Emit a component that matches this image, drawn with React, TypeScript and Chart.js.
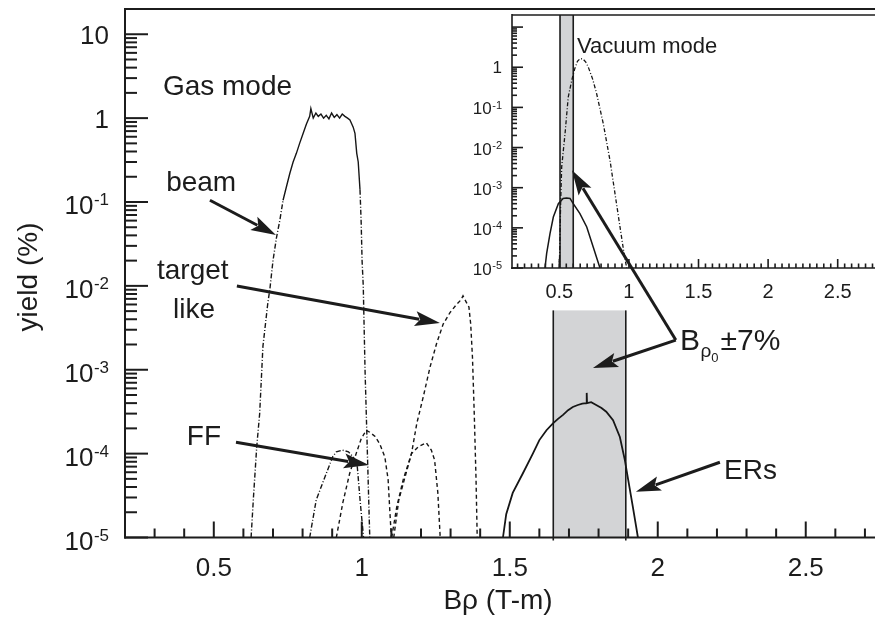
import React, { useEffect, useRef } from 'react';
import { Chart, registerables } from 'chart.js';
Chart.register(...registerables);

// ---------- Main panel (gas mode) ----------
const beamX = [0.626, 0.634, 0.645, 0.655, 0.666, 0.682, 0.690, 0.700, 0.712, 0.723, 0.734, 0.745, 0.757, 0.768, 0.779, 0.790, 0.802, 0.813, 0.824, 0.828, 0.836, 0.845, 0.853, 0.862, 0.871, 0.880, 0.889, 0.898, 0.907, 0.916, 0.925, 0.934, 0.943, 0.952, 0.960, 0.965, 0.971, 0.977, 0.983, 0.988, 0.994, 0.998, 1.001, 1.005, 1.011, 1.019, 1.027];
const beamY = [1e-5, 3e-5, 1.2e-4, 3e-4, 1.9e-3, 6e-3, 0.0095, 0.02, 0.038, 0.06, 0.105, 0.15, 0.22, 0.3, 0.38, 0.5, 0.66, 0.85, 1.05, 1.3, 1.0, 1.15, 1.05, 1.12, 1.0, 1.08, 0.98, 1.15, 1.02, 1.1, 1.0, 1.12, 1.05, 1.0, 0.95, 0.87, 0.78, 0.66, 0.38, 0.3, 0.14, 0.056, 0.02, 0.01, 1e-3, 1e-4, 1e-5];

const targetX = [1.101, 1.118, 1.140, 1.168, 1.186, 1.208, 1.231, 1.253, 1.275, 1.298, 1.320, 1.335, 1.342, 1.352, 1.362, 1.368, 1.374, 1.380, 1.386, 1.390];
const targetY = [1e-5, 2.3e-5, 4.9e-5, 1e-4, 2.3e-4, 4.8e-4, 1.09e-3, 2.07e-3, 3.5e-3, 4.8e-3, 6e-3, 6.8e-3, 7.6e-3, 6.5e-3, 5.6e-3, 3.5e-3, 1.4e-3, 3e-4, 5e-5, 1e-5];

const ffAX = [0.824, 0.846, 0.880, 0.902, 0.914, 0.935, 0.955, 0.972, 0.985, 0.995, 1.006];
const ffAY = [1e-5, 2.8e-5, 5.8e-5, 9.2e-5, 1.05e-4, 1.1e-4, 1.05e-4, 9e-5, 6.9e-5, 2.6e-5, 1e-5];
const ffBX = [0.914, 0.936, 0.959, 0.981, 0.998, 1.015, 1.027, 1.045, 1.061, 1.078, 1.089, 1.095, 1.100];
const ffBY = [1e-5, 2.6e-5, 5.8e-5, 1e-4, 1.5e-4, 1.9e-4, 1.8e-4, 1.6e-4, 1.3e-4, 9.1e-5, 4.9e-5, 2e-5, 1e-5];
const ffCX = [1.108, 1.125, 1.140, 1.168, 1.190, 1.218, 1.235, 1.246, 1.257, 1.265];
const ffCY = [1e-5, 2.8e-5, 4.4e-5, 1e-4, 1.2e-4, 1.35e-4, 1.1e-4, 8.4e-5, 3.4e-5, 1e-5];

const erX = [1.477, 1.488, 1.510, 1.544, 1.578, 1.600, 1.624, 1.646, 1.663, 1.680, 1.697, 1.713, 1.730, 1.745, 1.759, 1.760, 1.761, 1.775, 1.792, 1.810, 1.826, 1.849, 1.872, 1.889, 1.900, 1.916, 1.927, 1.933];
const erY = [1e-5, 1.9e-5, 3.4e-5, 5.8e-5, 1e-4, 1.45e-4, 1.9e-4, 2.3e-4, 2.6e-4, 2.9e-4, 3.3e-4, 3.6e-4, 3.8e-4, 3.95e-4, 4.0e-4, 5.3e-4, 4.0e-4, 4.1e-4, 3.8e-4, 3.5e-4, 3.16e-4, 2.5e-4, 1.58e-4, 8.3e-5, 4.9e-5, 2.3e-5, 1.35e-5, 1e-5];

const mainBand = [1.647, 1.892];
const mainBandTop = 5.1e-3;

// ---------- Inset panel (vacuum mode) ----------
const vacBeamX = [0.500, 0.505, 0.510, 0.517, 0.541, 0.564, 0.589, 0.610, 0.630, 0.649, 0.670, 0.690, 0.708, 0.740, 0.768, 0.816, 0.864, 0.900, 0.936, 0.965, 0.984];
const vacBeamY = [1e-5, 7.2e-5, 4.9e-4, 3.3e-3, 0.022, 0.18, 0.47, 0.9, 1.4, 1.64, 1.6, 1.35, 1.01, 0.5, 0.22, 0.039, 4.8e-3, 7.1e-4, 1.05e-4, 2.3e-5, 1e-5];
const vacErX = [0.397, 0.409, 0.433, 0.457, 0.493, 0.527, 0.552, 0.577, 0.600, 0.648, 0.697, 0.744, 0.792];
const vacErY = [1e-5, 2.3e-5, 7.2e-5, 1.86e-4, 4.0e-4, 5.4e-4, 5.5e-4, 5.4e-4, 4.0e-4, 2.26e-4, 1.05e-4, 3.3e-5, 1e-5];
const insetBand = [0.505, 0.600];

// ---------- Ticks ----------
const xTickValues = [0.5, 1, 1.5, 2, 2.5];
const xTickLabels = ['0.5', '1', '1.5', '2', '2.5'];
const mainYExps = [1, 0, -1, -2, -3, -4, -5];
const insetYExps = [0, -1, -2, -3, -4, -5];

// ---------- Annotations (data coordinates of main panel) ----------
const mainTexts = [
  { text: 'Gas mode', x: 0.328, y: 1.88 },
  { text: 'beam', x: 0.339, y: 0.135 },
  { text: 'target', x: 0.308, y: 0.012 },
  { text: 'like', x: 0.362, y: 4.13e-3 },
  { text: 'FF', x: 0.409, y: 1.27e-4 },
  { text: 'ERs', x: 2.224, y: 4.98e-5 },
];
const mainArrows = [
  { x1: 0.487, y1: 0.105, x2: 0.710, y2: 0.0403 },
  { x1: 0.578, y1: 9.95e-3, x2: 1.264, y2: 3.6e-3 },
  { x1: 0.575, y1: 1.37e-4, x2: 1.024, y2: 7.3e-5 },
  { x1: 2.210, y1: 7.9e-5, x2: 1.926, y2: 3.5e-5 },
];
const bLabel = { x: 2.075, y: 1.72e-3 };
const bArrowStart = { x: 2.061, y: 2.26e-3 };
const bArrowToBand = { x: 1.781, y: 1.05e-3 };
const bArrowToInset = { x: 0.591, y: 2.71e-3 }; // inset coordinates
const vacuumText = { text: 'Vacuum mode', x: 0.627, y: 2.22 };

const FONT = '"Liberation Sans", Arial, Helvetica, sans-serif';
const INK = '#1c1c1c';

const pts = (xs: number[], ys: number[]) => xs.map((x, i) => ({ x, y: ys[i] }));

function line(ctx: CanvasRenderingContext2D, x1: number, y1: number, x2: number, y2: number) {
  ctx.beginPath();
  ctx.moveTo(x1, y1);
  ctx.lineTo(x2, y2);
  ctx.stroke();
}

function arrow(ctx: CanvasRenderingContext2D, x1: number, y1: number, x2: number, y2: number) {
  const headLen = 25, headW = 7.5;
  const a = Math.atan2(y2 - y1, x2 - x1);
  const c = Math.cos(a), s = Math.sin(a);
  const bx = x2 - headLen * c, by = y2 - headLen * s;
  ctx.save();
  ctx.strokeStyle = INK;
  ctx.fillStyle = INK;
  ctx.lineWidth = 3;
  ctx.setLineDash([]);
  line(ctx, x1, y1, bx + 4 * c, by + 4 * s);
  ctx.beginPath();
  ctx.moveTo(x2, y2);
  ctx.lineTo(bx + headW * s, by - headW * c);
  ctx.lineTo(bx + 5 * c, by + 5 * s);
  ctx.lineTo(bx - headW * s, by + headW * c);
  ctx.closePath();
  ctx.fill();
  ctx.restore();
}

function drawPow(ctx: CanvasRenderingContext2D, exp: number, xr: number, tickY: number, big: number, small: number, offPlain: number, offSup: number) {
  ctx.fillStyle = INK;
  ctx.textBaseline = 'alphabetic';
  if (exp === 0 || exp === 1) {
    ctx.font = `${big}px ${FONT}`;
    ctx.textAlign = 'right';
    ctx.fillText(exp === 0 ? '1' : '10', xr, tickY + offPlain);
    return;
  }
  const sup = String(exp);
  ctx.font = `${small}px ${FONT}`;
  const sw = ctx.measureText(sup).width;
  ctx.textAlign = 'left';
  ctx.fillText(sup, xr - sw, tickY + offSup - big * 0.33);
  ctx.font = `${big}px ${FONT}`;
  ctx.textAlign = 'right';
  ctx.fillText('10', xr - sw - 0.5, tickY + offSup);
}

const mainPlugin = {
  id: 'mainDecor',
  beforeDraw(chart: any) {
    const ctx = chart.ctx;
    ctx.save();
    ctx.fillStyle = '#ffffff';
    ctx.fillRect(0, 0, chart.width, chart.height);
    ctx.restore();
  },
  beforeDatasetsDraw(chart: any) {
    const ctx = chart.ctx;
    const xs = chart.scales.x, ys = chart.scales.y, ca = chart.chartArea;
    const x1 = xs.getPixelForValue(mainBand[0]);
    const x2 = xs.getPixelForValue(mainBand[1]);
    const yt = ys.getPixelForValue(mainBandTop);
    ctx.save();
    ctx.fillStyle = '#d3d4d6';
    ctx.fillRect(x1, yt, x2 - x1, ca.bottom - yt);
    ctx.strokeStyle = INK;
    ctx.lineWidth = 1.6;
    line(ctx, x1, yt, x1, ca.bottom + 3);
    line(ctx, x2, yt, x2, ca.bottom + 3);
    ctx.restore();
  },
  afterDraw(chart: any) {
    const ctx = chart.ctx;
    const xs = chart.scales.x, ys = chart.scales.y, ca = chart.chartArea;
    ctx.save();
    ctx.strokeStyle = INK;
    ctx.lineWidth = 2;
    ctx.setLineDash([]);
    // frame
    line(ctx, ca.left, ca.top, ca.right + 2, ca.top);
    line(ctx, ca.left, ca.top - 1, ca.left, ca.bottom + 1);
    line(ctx, ca.left - 1, ca.bottom, ca.right + 2, ca.bottom);
    // x ticks
    for (let i = 3; i <= 27; i++) {
      const px = xs.getPixelForValue(i / 10);
      const len = i % 5 === 0 ? 16 : 9;
      line(ctx, px, ca.bottom, px, ca.bottom - len);
    }
    // y ticks
    for (let e = -5; e <= 1; e++) {
      for (let k = 1; k <= 9; k++) {
        const v = k * Math.pow(10, e);
        if (v > ys.max * 0.999) continue;
        const py = ys.getPixelForValue(v);
        const len = k === 1 ? 23 : 12;
        line(ctx, ca.left, py, ca.left + len, py);
      }
    }
    // tick labels
    ctx.fillStyle = INK;
    ctx.font = `26px ${FONT}`;
    ctx.textAlign = 'center';
    ctx.textBaseline = 'alphabetic';
    xTickValues.forEach((v, i) => ctx.fillText(xTickLabels[i], xs.getPixelForValue(v), ca.bottom + 38));
    mainYExps.forEach((e) => drawPow(ctx, e, 109, ys.getPixelForValue(Math.pow(10, e)), 26, 17, 10, 12));
    // axis titles
    ctx.fillStyle = INK;
    ctx.font = `28px ${FONT}`;
    ctx.textAlign = 'center';
    ctx.fillText('Bρ (T-m)', 498, 609);
    ctx.save();
    ctx.translate(37, 277);
    ctx.rotate(-Math.PI / 2);
    ctx.fillText('yield (%)', 0, 0);
    ctx.restore();
    // annotation texts
    ctx.font = `28px ${FONT}`;
    ctx.textAlign = 'left';
    mainTexts.forEach((t) => ctx.fillText(t.text, xs.getPixelForValue(t.x), ys.getPixelForValue(t.y)));
    mainArrows.forEach((a) =>
      arrow(ctx, xs.getPixelForValue(a.x1), ys.getPixelForValue(a.y1), xs.getPixelForValue(a.x2), ys.getPixelForValue(a.y2))
    );
    ctx.restore();
  },
};

function makeInsetPlugin(main: any) {
  return {
    id: 'insetDecor',
    beforeDatasetsDraw(chart: any) {
      const ctx = chart.ctx;
      const xs = chart.scales.x, ca = chart.chartArea;
      const x1 = xs.getPixelForValue(insetBand[0]);
      const x2 = xs.getPixelForValue(insetBand[1]);
      ctx.save();
      ctx.fillStyle = '#ffffff';
      ctx.fillRect(ca.left, ca.top, ca.right - ca.left, ca.bottom - ca.top);
      ctx.fillStyle = '#d3d4d6';
      ctx.fillRect(x1, ca.top, x2 - x1, ca.bottom - ca.top);
      ctx.strokeStyle = INK;
      ctx.lineWidth = 1.6;
      line(ctx, x1, ca.top, x1, ca.bottom);
      line(ctx, x2, ca.top, x2, ca.bottom);
      ctx.restore();
    },
    afterDraw(chart: any) {
      const ctx = chart.ctx;
      const xs = chart.scales.x, ys = chart.scales.y, ca = chart.chartArea;
      ctx.save();
      ctx.strokeStyle = INK;
      ctx.lineWidth = 1.6;
      ctx.setLineDash([]);
      line(ctx, ca.left, ca.top, ca.right + 2, ca.top);
      line(ctx, ca.left, ca.top - 1, ca.left, ca.bottom + 1);
      line(ctx, ca.left - 1, ca.bottom, ca.right + 2, ca.bottom);
      for (let i = 4; i <= 55; i++) {
        const px = xs.getPixelForValue(i * 0.05);
        const len = i % 10 === 0 ? 9 : 4.5;
        line(ctx, px, ca.bottom, px, ca.bottom - len);
      }
      for (let e = -5; e <= 1; e++) {
        for (let k = 1; k <= 9; k++) {
          const v = k * Math.pow(10, e);
          if (v > ys.max * 0.999) continue;
          const py = ys.getPixelForValue(v);
          line(ctx, ca.left, py, ca.left + (k === 1 ? 11 : 5), py);
        }
      }
      ctx.fillStyle = INK;
      ctx.font = `20px ${FONT}`;
      ctx.textAlign = 'center';
      ctx.textBaseline = 'alphabetic';
      xTickValues.forEach((v, i) => ctx.fillText(xTickLabels[i], xs.getPixelForValue(v), ca.bottom + 30));
      insetYExps.forEach((e) => drawPow(ctx, e, 502, ys.getPixelForValue(Math.pow(10, e)), 17, 11, 6, 7));
      ctx.font = `22px ${FONT}`;
      ctx.textAlign = 'left';
      ctx.fillText(vacuumText.text, xs.getPixelForValue(vacuumText.x), ys.getPixelForValue(vacuumText.y));

      // B_rho0 ±7% label and its two arrows (drawn on top of the inset)
      const mx = main.scales.x, my = main.scales.y;
      const lx = mx.getPixelForValue(bLabel.x), ly = my.getPixelForValue(bLabel.y);
      ctx.fillStyle = INK;
      ctx.font = `30px ${FONT}`;
      ctx.fillText('B', lx, ly);
      let cx = lx + ctx.measureText('B').width + 0.5;
      ctx.font = `19px ${FONT}`;
      ctx.fillText('ρ', cx, ly + 7);
      cx += ctx.measureText('ρ').width;
      ctx.font = `13px ${FONT}`;
      ctx.fillText('0', cx, ly + 12);
      cx += ctx.measureText('0').width + 2;
      ctx.font = `30px ${FONT}`;
      ctx.fillText('±7%', cx, ly);
      const sx = mx.getPixelForValue(bArrowStart.x), sy = my.getPixelForValue(bArrowStart.y);
      arrow(ctx, sx, sy, mx.getPixelForValue(bArrowToBand.x), my.getPixelForValue(bArrowToBand.y));
      arrow(ctx, sx, sy, xs.getPixelForValue(bArrowToInset.x), ys.getPixelForValue(bArrowToInset.y));
      ctx.restore();
    },
  };
}

const hiddenLinear = (min: number, max: number) => ({
  type: 'linear' as const,
  min,
  max,
  grid: { display: false },
  border: { display: false },
  ticks: { display: false },
  afterFit: (s: any) => { s.height = 0; },
});
const hiddenLog = (min: number, max: number) => ({
  type: 'logarithmic' as const,
  min,
  max,
  grid: { display: false },
  border: { display: false },
  ticks: { display: false },
  afterFit: (s: any) => { s.width = 0; },
});

const ds = (data: any, dash: number[], width: number, extra: any = {}) => ({
  data,
  borderColor: '#161616',
  borderWidth: width,
  borderDash: dash,
  pointRadius: 0,
  fill: false,
  tension: 0,
  ...extra,
});

export default function App() {
  const mainRef = useRef<HTMLCanvasElement>(null);
  const insetRef = useRef<HTMLCanvasElement>(null);

  useEffect(() => {
    const main = new Chart(mainRef.current as HTMLCanvasElement, {
      type: 'line',
      data: {
        datasets: [
          ds(pts(beamX, beamY), [5, 2, 1, 2], 1.4, {
            segment: { borderDash: (c: any) => (c.p0.parsed.y > 0.1 && c.p1.parsed.y > 0.1 ? [] : undefined) },
          }),
          ds(pts(targetX, targetY), [4, 3], 1.4),
          ds(pts(ffAX, ffAY), [5, 2, 1, 2], 1.4),
          ds(pts(ffBX, ffBY), [4, 3], 1.4),
          ds(pts(ffCX, ffCY), [4, 3], 1.4),
          ds(pts(erX, erY), [], 1.8),
        ],
      },
      options: {
        responsive: false,
        animation: false,
        devicePixelRatio: 1,
        events: [],
        layout: { padding: { left: 125, top: 9, right: 0, bottom: 90.5 } },
        plugins: { legend: { display: false }, tooltip: { enabled: false } },
        scales: { x: hiddenLinear(0.2, 2.734), y: hiddenLog(1e-5, 20) },
      } as any,
      plugins: [mainPlugin],
    });

    const inset = new Chart(insetRef.current as HTMLCanvasElement, {
      type: 'line',
      data: {
        datasets: [
          ds(pts(vacBeamX, vacBeamY), [4, 2, 1, 2], 1.3),
          ds(pts(vacErX, vacErY), [], 1.5),
        ],
      },
      options: {
        responsive: false,
        animation: false,
        devicePixelRatio: 1,
        events: [],
        layout: { padding: { left: 512, top: 15, right: 0, bottom: 360 } },
        plugins: { legend: { display: false }, tooltip: { enabled: false } },
        scales: { x: hiddenLinear(0.16, 2.768), y: hiddenLog(1e-5, 20) },
      } as any,
      plugins: [makeInsetPlugin(main)],
    });

    return () => {
      inset.destroy();
      main.destroy();
    };
  }, []);

  return (
    <div style={{ position: 'absolute', left: 0, top: 0, width: 875, height: 628, background: '#fff', overflow: 'hidden' }}>
      <canvas ref={mainRef} width={875} height={628} style={{ position: 'absolute', left: 0, top: 0, width: 875, height: 628 }} />
      <canvas ref={insetRef} width={875} height={628} style={{ position: 'absolute', left: 0, top: 0, width: 875, height: 628 }} />
    </div>
  );
}
